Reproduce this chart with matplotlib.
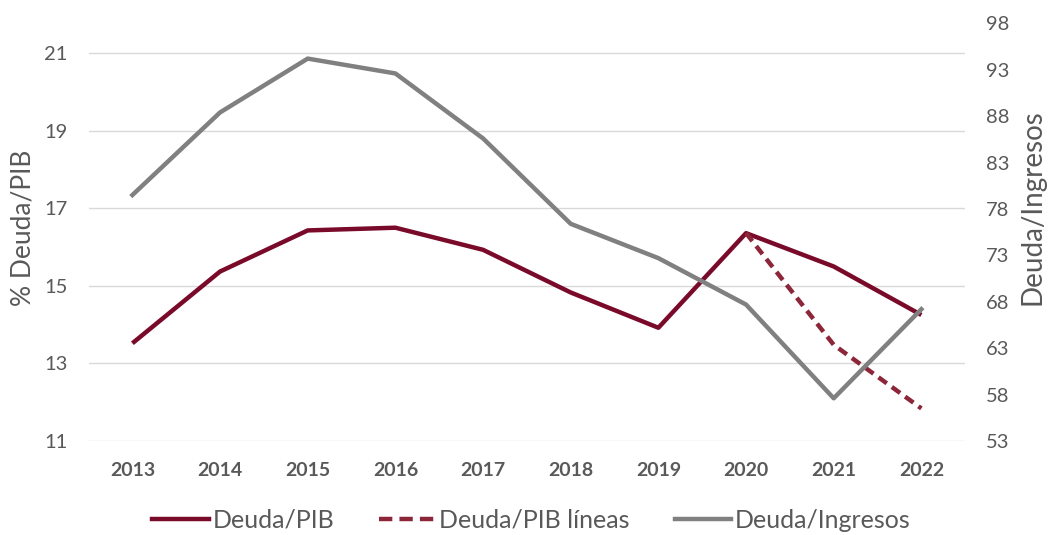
import matplotlib
matplotlib.use("Agg")
import matplotlib.pyplot as plt
from matplotlib.lines import Line2D

years = ["2013", "2014", "2015", "2016", "2017", "2018", "2019", "2020", "2021", "2022"]
deuda_pib = [13.52, 15.37, 16.43, 16.50, 15.93, 14.83, 13.92, 16.36, 15.50, 14.25]
deuda_pib_lineas_years = ["2020", "2021", "2022"]
deuda_pib_lineas = [16.36, 13.48, 11.84]
deuda_ingresos = [79.5, 88.4, 94.2, 92.6, 85.6, 76.4, 72.7, 67.7, 57.6, 67.2]

left_ticks = [11, 13, 15, 17, 19, 21]
right_ticks = [53, 58, 63, 68, 73, 78, 83, 88, 93, 98]

plt.rcParams['font.family'] = ['Lato', 'DejaVu Sans']

RED = "#7a0a2a"
RED_D = "#8c2639"
GRAY = "#808080"
TXT = "#595959"

fig = plt.figure(figsize=(10.48, 5.35), dpi=100)
ax = fig.add_axes([0.0845, 0.1757, 0.8365, 0.7807])
x = list(range(len(years)))
xl = [years.index(y) for y in deuda_pib_lineas_years]

for v in left_ticks:
    ax.axhline(v, color="#d9d9d9", lw=1.0, zorder=0)

ax.plot(x, deuda_pib, color=RED, lw=3.2, solid_capstyle='butt', zorder=3)
ax.plot(xl, deuda_pib_lineas, color=RED_D, lw=3.2, dashes=(2.3, 1.4), zorder=3)
ax.set_xlim(-0.5, 9.5)
ax.set_ylim(11, 21.77)
ax.set_yticks(left_ticks)
ax.set_xticks(x)
ax.set_xticklabels(years, fontweight='bold')
ax.tick_params(axis='x', length=0, pad=15, labelsize=14, labelcolor=TXT)
ax.tick_params(axis='y', length=0, pad=15, labelsize=14.5, labelcolor=TXT)
for s in ax.spines.values():
    s.set_visible(False)
ax.set_ylabel("% Deuda/PIB", fontsize=19, color=TXT)
ax.yaxis.set_label_coords(-0.061, 0.51)

ax2 = ax.twinx()
ax2.plot(x, deuda_ingresos, color=GRAY, lw=3.2, zorder=3)
ax2.set_ylim(53, 98)
ax2.set_yticks(right_ticks)
ax2.tick_params(axis='y', length=0, pad=15, labelsize=14.5, labelcolor=TXT)
for s in ax2.spines.values():
    s.set_visible(False)
ax2.set_ylabel("Deuda/Ingresos", fontsize=20, color=TXT)
ax2.yaxis.set_label_coords(1.062, 0.56)

handles = [
    Line2D([], [], color=RED, lw=3.2),
    Line2D([], [], color=RED_D, lw=3.2, dashes=(3.0, 1.6)),
    Line2D([], [], color=GRAY, lw=3.2),
]
labels = ["Deuda/PIB", "Deuda/PIB líneas", "Deuda/Ingresos"]
fig.legend(handles, labels, loc='center', bbox_to_anchor=(0.507, 0.028), ncol=3,
           frameon=False, fontsize=18, handlelength=2.25, handletextpad=0.15,
           columnspacing=1.8, labelcolor=TXT)

fig.savefig("out.png", dpi=100)
